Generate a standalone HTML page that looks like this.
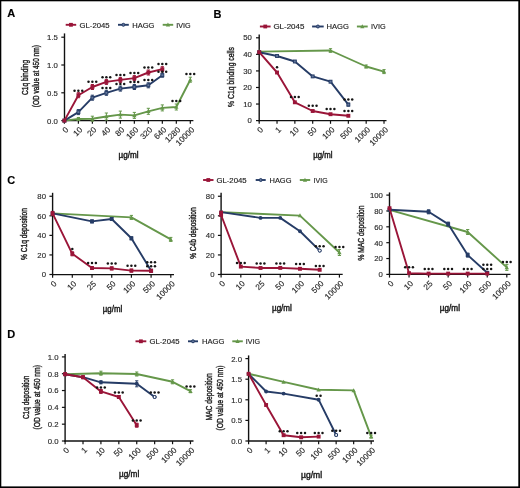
<!DOCTYPE html>
<html><head><meta charset="utf-8"><title>Figure</title>
<style>html,body{margin:0;padding:0;background:#fff;width:520px;height:488px;overflow:hidden}
svg{display:block;font-family:"Liberation Sans",sans-serif;filter:blur(0.35px)}</style></head>
<body>
<svg width="520" height="488" viewBox="0 0 520 488" font-family="Liberation Sans, sans-serif">
<rect x="0" y="0" width="520" height="488" fill="#fff"/>
<text x="7.3" y="17.2" font-size="11" text-anchor="start" fill="#000" font-weight="bold" stroke="#000" stroke-width="0.15">A</text>
<line x1="65.7" y1="24.8" x2="76.2" y2="24.8" stroke="#9a1538" stroke-width="1.9"/>
<rect x="69.05" y="22.9" width="3.8" height="3.8" fill="#9a1538"/>
<text x="79.6" y="27.6" font-size="7.6" text-anchor="start" fill="#222" textLength="30" lengthAdjust="spacingAndGlyphs" stroke="#222" stroke-width="0.15">GL-2045</text>
<line x1="118" y1="24.8" x2="128.8" y2="24.8" stroke="#263c66" stroke-width="1.9"/>
<circle cx="123.4" cy="24.8" r="1.5" fill="#62769c" stroke="#263c66" stroke-width="1"/>
<text x="132.2" y="27.6" font-size="7.6" text-anchor="start" fill="#222" textLength="22.2" lengthAdjust="spacingAndGlyphs" stroke="#222" stroke-width="0.15">HAGG</text>
<line x1="162.7" y1="24.8" x2="173.2" y2="24.8" stroke="#65974a" stroke-width="1.9"/>
<polygon points="167.95,22.6 170.05,26.5 165.85,26.5" fill="#65974a"/>
<text x="176.2" y="27.6" font-size="7.6" text-anchor="start" fill="#222" textLength="14.4" lengthAdjust="spacingAndGlyphs" stroke="#222" stroke-width="0.15">IVIG</text>
<line x1="64.5" y1="33.4" x2="64.5" y2="121.3" stroke="#111" stroke-width="1.4"/>
<line x1="61.3" y1="120.6" x2="64.5" y2="120.6" stroke="#111" stroke-width="1.2"/>
<text x="57.9" y="123.52" font-size="8.1" text-anchor="end" fill="#2a2a2a" textLength="10.81" lengthAdjust="spacingAndGlyphs" stroke="#2a2a2a" stroke-width="0.15">0.0</text>
<line x1="61.3" y1="92.8" x2="64.5" y2="92.8" stroke="#111" stroke-width="1.2"/>
<text x="57.9" y="95.72" font-size="8.1" text-anchor="end" fill="#2a2a2a" textLength="10.81" lengthAdjust="spacingAndGlyphs" stroke="#2a2a2a" stroke-width="0.15">0.5</text>
<line x1="61.3" y1="65" x2="64.5" y2="65" stroke="#111" stroke-width="1.2"/>
<text x="57.9" y="67.92" font-size="8.1" text-anchor="end" fill="#2a2a2a" textLength="10.81" lengthAdjust="spacingAndGlyphs" stroke="#2a2a2a" stroke-width="0.15">1.0</text>
<line x1="61.3" y1="37.2" x2="64.5" y2="37.2" stroke="#111" stroke-width="1.2"/>
<text x="57.9" y="40.12" font-size="8.1" text-anchor="end" fill="#2a2a2a" textLength="10.81" lengthAdjust="spacingAndGlyphs" stroke="#2a2a2a" stroke-width="0.15">1.5</text>
<line x1="63.8" y1="120.6" x2="193.4" y2="120.6" stroke="#111" stroke-width="1.4"/>
<line x1="64.4" y1="120.6" x2="64.4" y2="123.8" stroke="#111" stroke-width="1.2"/>
<text x="69" y="130.3" font-size="8.1" text-anchor="end" fill="#2a2a2a" textLength="4.5" lengthAdjust="spacingAndGlyphs" stroke="#2a2a2a" stroke-width="0.15" transform="rotate(-45 69 130.3)">0</text>
<line x1="78.39" y1="120.6" x2="78.39" y2="123.8" stroke="#111" stroke-width="1.2"/>
<text x="82.99" y="130.3" font-size="8.1" text-anchor="end" fill="#2a2a2a" textLength="9.01" lengthAdjust="spacingAndGlyphs" stroke="#2a2a2a" stroke-width="0.15" transform="rotate(-45 82.99 130.3)">10</text>
<line x1="92.38" y1="120.6" x2="92.38" y2="123.8" stroke="#111" stroke-width="1.2"/>
<text x="96.98" y="130.3" font-size="8.1" text-anchor="end" fill="#2a2a2a" textLength="9.01" lengthAdjust="spacingAndGlyphs" stroke="#2a2a2a" stroke-width="0.15" transform="rotate(-45 96.98 130.3)">20</text>
<line x1="106.37" y1="120.6" x2="106.37" y2="123.8" stroke="#111" stroke-width="1.2"/>
<text x="110.97" y="130.3" font-size="8.1" text-anchor="end" fill="#2a2a2a" textLength="9.01" lengthAdjust="spacingAndGlyphs" stroke="#2a2a2a" stroke-width="0.15" transform="rotate(-45 110.97 130.3)">40</text>
<line x1="120.36" y1="120.6" x2="120.36" y2="123.8" stroke="#111" stroke-width="1.2"/>
<text x="124.96" y="130.3" font-size="8.1" text-anchor="end" fill="#2a2a2a" textLength="9.01" lengthAdjust="spacingAndGlyphs" stroke="#2a2a2a" stroke-width="0.15" transform="rotate(-45 124.96 130.3)">80</text>
<line x1="134.35" y1="120.6" x2="134.35" y2="123.8" stroke="#111" stroke-width="1.2"/>
<text x="138.95" y="130.3" font-size="8.1" text-anchor="end" fill="#2a2a2a" textLength="13.51" lengthAdjust="spacingAndGlyphs" stroke="#2a2a2a" stroke-width="0.15" transform="rotate(-45 138.95 130.3)">160</text>
<line x1="148.34" y1="120.6" x2="148.34" y2="123.8" stroke="#111" stroke-width="1.2"/>
<text x="152.94" y="130.3" font-size="8.1" text-anchor="end" fill="#2a2a2a" textLength="13.51" lengthAdjust="spacingAndGlyphs" stroke="#2a2a2a" stroke-width="0.15" transform="rotate(-45 152.94 130.3)">320</text>
<line x1="162.33" y1="120.6" x2="162.33" y2="123.8" stroke="#111" stroke-width="1.2"/>
<text x="166.93" y="130.3" font-size="8.1" text-anchor="end" fill="#2a2a2a" textLength="13.51" lengthAdjust="spacingAndGlyphs" stroke="#2a2a2a" stroke-width="0.15" transform="rotate(-45 166.93 130.3)">640</text>
<line x1="176.32" y1="120.6" x2="176.32" y2="123.8" stroke="#111" stroke-width="1.2"/>
<text x="180.92" y="130.3" font-size="8.1" text-anchor="end" fill="#2a2a2a" textLength="18.02" lengthAdjust="spacingAndGlyphs" stroke="#2a2a2a" stroke-width="0.15" transform="rotate(-45 180.92 130.3)">1280</text>
<line x1="190.31" y1="120.6" x2="190.31" y2="123.8" stroke="#111" stroke-width="1.2"/>
<text x="194.91" y="130.3" font-size="8.1" text-anchor="end" fill="#2a2a2a" textLength="22.52" lengthAdjust="spacingAndGlyphs" stroke="#2a2a2a" stroke-width="0.15" transform="rotate(-45 194.91 130.3)">10000</text>
<text x="118.6" y="157.6" font-size="8.8" text-anchor="start" fill="#1a1a1a" textLength="20" lengthAdjust="spacingAndGlyphs" stroke="#1a1a1a" stroke-width="0.45">µg/ml</text>
<text x="27.8" y="77.4" font-size="8.9" text-anchor="middle" fill="#1e1e1e" textLength="35" lengthAdjust="spacingAndGlyphs" stroke="#1e1e1e" stroke-width="0.4" transform="rotate(-90 27.8 77.4)">C1q binding</text>
<text x="39.2" y="76.2" font-size="8.9" text-anchor="middle" fill="#1e1e1e" textLength="62" lengthAdjust="spacingAndGlyphs" stroke="#1e1e1e" stroke-width="0.4" transform="rotate(-90 39.2 76.2)">(OD value at 450 nm)</text>
<polyline points="64.4,120.6 78.39,119 92.38,118.7 106.37,116.5 120.36,114.6 134.35,115.4 148.34,111.3 162.33,107.9 176.32,107 190.31,79.7" fill="none" stroke="#65974a" stroke-width="1.9" stroke-linejoin="round"/>
<line x1="78.39" y1="117.5" x2="78.39" y2="120.5" stroke="#65974a" stroke-width="1.0"/>
<line x1="76.79" y1="117.5" x2="79.99" y2="117.5" stroke="#65974a" stroke-width="1.0"/>
<line x1="76.79" y1="120.5" x2="79.99" y2="120.5" stroke="#65974a" stroke-width="1.0"/>
<line x1="92.38" y1="116.2" x2="92.38" y2="121.2" stroke="#65974a" stroke-width="1.0"/>
<line x1="90.78" y1="116.2" x2="93.98" y2="116.2" stroke="#65974a" stroke-width="1.0"/>
<line x1="90.78" y1="121.2" x2="93.98" y2="121.2" stroke="#65974a" stroke-width="1.0"/>
<line x1="106.37" y1="113" x2="106.37" y2="120" stroke="#65974a" stroke-width="1.0"/>
<line x1="104.77" y1="113" x2="107.97" y2="113" stroke="#65974a" stroke-width="1.0"/>
<line x1="104.77" y1="120" x2="107.97" y2="120" stroke="#65974a" stroke-width="1.0"/>
<line x1="120.36" y1="111.1" x2="120.36" y2="118.1" stroke="#65974a" stroke-width="1.0"/>
<line x1="118.76" y1="111.1" x2="121.96" y2="111.1" stroke="#65974a" stroke-width="1.0"/>
<line x1="118.76" y1="118.1" x2="121.96" y2="118.1" stroke="#65974a" stroke-width="1.0"/>
<line x1="134.35" y1="112.4" x2="134.35" y2="118.4" stroke="#65974a" stroke-width="1.0"/>
<line x1="132.75" y1="112.4" x2="135.95" y2="112.4" stroke="#65974a" stroke-width="1.0"/>
<line x1="132.75" y1="118.4" x2="135.95" y2="118.4" stroke="#65974a" stroke-width="1.0"/>
<line x1="148.34" y1="108.3" x2="148.34" y2="114.3" stroke="#65974a" stroke-width="1.0"/>
<line x1="146.74" y1="108.3" x2="149.94" y2="108.3" stroke="#65974a" stroke-width="1.0"/>
<line x1="146.74" y1="114.3" x2="149.94" y2="114.3" stroke="#65974a" stroke-width="1.0"/>
<line x1="162.33" y1="104.9" x2="162.33" y2="110.9" stroke="#65974a" stroke-width="1.0"/>
<line x1="160.73" y1="104.9" x2="163.93" y2="104.9" stroke="#65974a" stroke-width="1.0"/>
<line x1="160.73" y1="110.9" x2="163.93" y2="110.9" stroke="#65974a" stroke-width="1.0"/>
<line x1="176.32" y1="104" x2="176.32" y2="110" stroke="#65974a" stroke-width="1.0"/>
<line x1="174.72" y1="104" x2="177.92" y2="104" stroke="#65974a" stroke-width="1.0"/>
<line x1="174.72" y1="110" x2="177.92" y2="110" stroke="#65974a" stroke-width="1.0"/>
<line x1="190.31" y1="77.2" x2="190.31" y2="82.2" stroke="#65974a" stroke-width="1.0"/>
<line x1="188.71" y1="77.2" x2="191.91" y2="77.2" stroke="#65974a" stroke-width="1.0"/>
<line x1="188.71" y1="82.2" x2="191.91" y2="82.2" stroke="#65974a" stroke-width="1.0"/>
<polygon points="64.4,118.35 66.55,122.35 62.25,122.35" fill="#65974a"/>
<polygon points="78.39,116.75 80.54,120.75 76.24,120.75" fill="#65974a"/>
<polygon points="92.38,116.45 94.53,120.45 90.23,120.45" fill="#65974a"/>
<polygon points="106.37,114.25 108.52,118.25 104.22,118.25" fill="#65974a"/>
<polygon points="120.36,112.35 122.51,116.35 118.21,116.35" fill="#65974a"/>
<polygon points="134.35,113.15 136.5,117.15 132.2,117.15" fill="#65974a"/>
<polygon points="148.34,109.05 150.49,113.05 146.19,113.05" fill="#65974a"/>
<polygon points="162.33,105.65 164.48,109.65 160.18,109.65" fill="#65974a"/>
<polygon points="176.32,104.75 178.47,108.75 174.17,108.75" fill="#65974a"/>
<polygon points="190.31,77.45 192.46,81.45 188.16,81.45" fill="#65974a"/>
<polyline points="64.4,120.6 78.39,112.1 92.38,97.7 106.37,92.8 120.36,88.6 134.35,87 148.34,85.3 162.33,75.2" fill="none" stroke="#263c66" stroke-width="1.9" stroke-linejoin="round"/>
<line x1="78.39" y1="109.6" x2="78.39" y2="114.6" stroke="#263c66" stroke-width="1.0"/>
<line x1="76.79" y1="109.6" x2="79.99" y2="109.6" stroke="#263c66" stroke-width="1.0"/>
<line x1="76.79" y1="114.6" x2="79.99" y2="114.6" stroke="#263c66" stroke-width="1.0"/>
<line x1="92.38" y1="95.2" x2="92.38" y2="100.2" stroke="#263c66" stroke-width="1.0"/>
<line x1="90.78" y1="95.2" x2="93.98" y2="95.2" stroke="#263c66" stroke-width="1.0"/>
<line x1="90.78" y1="100.2" x2="93.98" y2="100.2" stroke="#263c66" stroke-width="1.0"/>
<line x1="106.37" y1="90.3" x2="106.37" y2="95.3" stroke="#263c66" stroke-width="1.0"/>
<line x1="104.77" y1="90.3" x2="107.97" y2="90.3" stroke="#263c66" stroke-width="1.0"/>
<line x1="104.77" y1="95.3" x2="107.97" y2="95.3" stroke="#263c66" stroke-width="1.0"/>
<line x1="120.36" y1="86.1" x2="120.36" y2="91.1" stroke="#263c66" stroke-width="1.0"/>
<line x1="118.76" y1="86.1" x2="121.96" y2="86.1" stroke="#263c66" stroke-width="1.0"/>
<line x1="118.76" y1="91.1" x2="121.96" y2="91.1" stroke="#263c66" stroke-width="1.0"/>
<line x1="134.35" y1="84.5" x2="134.35" y2="89.5" stroke="#263c66" stroke-width="1.0"/>
<line x1="132.75" y1="84.5" x2="135.95" y2="84.5" stroke="#263c66" stroke-width="1.0"/>
<line x1="132.75" y1="89.5" x2="135.95" y2="89.5" stroke="#263c66" stroke-width="1.0"/>
<line x1="148.34" y1="82.8" x2="148.34" y2="87.8" stroke="#263c66" stroke-width="1.0"/>
<line x1="146.74" y1="82.8" x2="149.94" y2="82.8" stroke="#263c66" stroke-width="1.0"/>
<line x1="146.74" y1="87.8" x2="149.94" y2="87.8" stroke="#263c66" stroke-width="1.0"/>
<line x1="162.33" y1="73.2" x2="162.33" y2="77.2" stroke="#263c66" stroke-width="1.0"/>
<line x1="160.73" y1="73.2" x2="163.93" y2="73.2" stroke="#263c66" stroke-width="1.0"/>
<line x1="160.73" y1="77.2" x2="163.93" y2="77.2" stroke="#263c66" stroke-width="1.0"/>
<rect x="62.95" y="119.15" width="2.9" height="2.9" fill="#62769c" stroke="#263c66" stroke-width="1"/>
<rect x="76.94" y="110.65" width="2.9" height="2.9" fill="#62769c" stroke="#263c66" stroke-width="1"/>
<rect x="90.93" y="96.25" width="2.9" height="2.9" fill="#62769c" stroke="#263c66" stroke-width="1"/>
<rect x="104.92" y="91.35" width="2.9" height="2.9" fill="#62769c" stroke="#263c66" stroke-width="1"/>
<rect x="118.91" y="87.15" width="2.9" height="2.9" fill="#62769c" stroke="#263c66" stroke-width="1"/>
<rect x="132.9" y="85.55" width="2.9" height="2.9" fill="#62769c" stroke="#263c66" stroke-width="1"/>
<rect x="146.89" y="83.85" width="2.9" height="2.9" fill="#62769c" stroke="#263c66" stroke-width="1"/>
<rect x="160.88" y="73.75" width="2.9" height="2.9" fill="#62769c" stroke="#263c66" stroke-width="1"/>
<polyline points="64.4,120.6 78.39,95.2 92.38,87 106.37,81.9 120.36,79.9 134.35,78.1 148.34,72.5 162.33,69.2" fill="none" stroke="#9a1538" stroke-width="1.9" stroke-linejoin="round"/>
<line x1="78.39" y1="92.7" x2="78.39" y2="97.7" stroke="#9a1538" stroke-width="1.0"/>
<line x1="76.79" y1="92.7" x2="79.99" y2="92.7" stroke="#9a1538" stroke-width="1.0"/>
<line x1="76.79" y1="97.7" x2="79.99" y2="97.7" stroke="#9a1538" stroke-width="1.0"/>
<line x1="92.38" y1="84.5" x2="92.38" y2="89.5" stroke="#9a1538" stroke-width="1.0"/>
<line x1="90.78" y1="84.5" x2="93.98" y2="84.5" stroke="#9a1538" stroke-width="1.0"/>
<line x1="90.78" y1="89.5" x2="93.98" y2="89.5" stroke="#9a1538" stroke-width="1.0"/>
<line x1="106.37" y1="79.4" x2="106.37" y2="84.4" stroke="#9a1538" stroke-width="1.0"/>
<line x1="104.77" y1="79.4" x2="107.97" y2="79.4" stroke="#9a1538" stroke-width="1.0"/>
<line x1="104.77" y1="84.4" x2="107.97" y2="84.4" stroke="#9a1538" stroke-width="1.0"/>
<line x1="120.36" y1="77.4" x2="120.36" y2="82.4" stroke="#9a1538" stroke-width="1.0"/>
<line x1="118.76" y1="77.4" x2="121.96" y2="77.4" stroke="#9a1538" stroke-width="1.0"/>
<line x1="118.76" y1="82.4" x2="121.96" y2="82.4" stroke="#9a1538" stroke-width="1.0"/>
<line x1="134.35" y1="75.6" x2="134.35" y2="80.6" stroke="#9a1538" stroke-width="1.0"/>
<line x1="132.75" y1="75.6" x2="135.95" y2="75.6" stroke="#9a1538" stroke-width="1.0"/>
<line x1="132.75" y1="80.6" x2="135.95" y2="80.6" stroke="#9a1538" stroke-width="1.0"/>
<line x1="148.34" y1="70" x2="148.34" y2="75" stroke="#9a1538" stroke-width="1.0"/>
<line x1="146.74" y1="70" x2="149.94" y2="70" stroke="#9a1538" stroke-width="1.0"/>
<line x1="146.74" y1="75" x2="149.94" y2="75" stroke="#9a1538" stroke-width="1.0"/>
<line x1="162.33" y1="66.7" x2="162.33" y2="71.7" stroke="#9a1538" stroke-width="1.0"/>
<line x1="160.73" y1="66.7" x2="163.93" y2="66.7" stroke="#9a1538" stroke-width="1.0"/>
<line x1="160.73" y1="71.7" x2="163.93" y2="71.7" stroke="#9a1538" stroke-width="1.0"/>
<rect x="62.45" y="118.65" width="3.9" height="3.9" fill="#9a1538"/>
<rect x="76.44" y="93.25" width="3.9" height="3.9" fill="#9a1538"/>
<rect x="90.43" y="85.05" width="3.9" height="3.9" fill="#9a1538"/>
<rect x="104.42" y="79.95" width="3.9" height="3.9" fill="#9a1538"/>
<rect x="118.41" y="77.95" width="3.9" height="3.9" fill="#9a1538"/>
<rect x="132.4" y="76.15" width="3.9" height="3.9" fill="#9a1538"/>
<rect x="146.39" y="70.55" width="3.9" height="3.9" fill="#9a1538"/>
<rect x="160.38" y="67.25" width="3.9" height="3.9" fill="#9a1538"/>
<circle cx="74.54" cy="90.8" r="1.25" fill="#151515"/>
<circle cx="78.39" cy="90.8" r="1.25" fill="#151515"/>
<circle cx="82.24" cy="90.8" r="1.25" fill="#151515"/>
<circle cx="88.53" cy="81.8" r="1.25" fill="#151515"/>
<circle cx="92.38" cy="81.8" r="1.25" fill="#151515"/>
<circle cx="96.23" cy="81.8" r="1.25" fill="#151515"/>
<circle cx="102.52" cy="77.2" r="1.25" fill="#151515"/>
<circle cx="106.37" cy="77.2" r="1.25" fill="#151515"/>
<circle cx="110.22" cy="77.2" r="1.25" fill="#151515"/>
<circle cx="116.51" cy="74.9" r="1.25" fill="#151515"/>
<circle cx="120.36" cy="74.9" r="1.25" fill="#151515"/>
<circle cx="124.21" cy="74.9" r="1.25" fill="#151515"/>
<circle cx="130.5" cy="72.9" r="1.25" fill="#151515"/>
<circle cx="134.35" cy="72.9" r="1.25" fill="#151515"/>
<circle cx="138.2" cy="72.9" r="1.25" fill="#151515"/>
<circle cx="144.49" cy="67.4" r="1.25" fill="#151515"/>
<circle cx="148.34" cy="67.4" r="1.25" fill="#151515"/>
<circle cx="152.19" cy="67.4" r="1.25" fill="#151515"/>
<circle cx="158.48" cy="64" r="1.25" fill="#151515"/>
<circle cx="162.33" cy="64" r="1.25" fill="#151515"/>
<circle cx="166.18" cy="64" r="1.25" fill="#151515"/>
<circle cx="102.52" cy="88" r="1.25" fill="#151515"/>
<circle cx="106.37" cy="88" r="1.25" fill="#151515"/>
<circle cx="110.22" cy="88" r="1.25" fill="#151515"/>
<circle cx="116.51" cy="83.9" r="1.25" fill="#151515"/>
<circle cx="120.36" cy="83.9" r="1.25" fill="#151515"/>
<circle cx="124.21" cy="83.9" r="1.25" fill="#151515"/>
<circle cx="130.5" cy="81.9" r="1.25" fill="#151515"/>
<circle cx="134.35" cy="81.9" r="1.25" fill="#151515"/>
<circle cx="138.2" cy="81.9" r="1.25" fill="#151515"/>
<circle cx="144.49" cy="79.9" r="1.25" fill="#151515"/>
<circle cx="148.34" cy="79.9" r="1.25" fill="#151515"/>
<circle cx="152.19" cy="79.9" r="1.25" fill="#151515"/>
<circle cx="158.48" cy="71.8" r="1.25" fill="#151515"/>
<circle cx="162.33" cy="71.8" r="1.25" fill="#151515"/>
<circle cx="166.18" cy="71.8" r="1.25" fill="#151515"/>
<circle cx="172.47" cy="101" r="1.25" fill="#151515"/>
<circle cx="176.32" cy="101" r="1.25" fill="#151515"/>
<circle cx="180.17" cy="101" r="1.25" fill="#151515"/>
<circle cx="186.46" cy="73.9" r="1.25" fill="#151515"/>
<circle cx="190.31" cy="73.9" r="1.25" fill="#151515"/>
<circle cx="194.16" cy="73.9" r="1.25" fill="#151515"/>
<text x="213.6" y="17.7" font-size="11" text-anchor="start" fill="#000" font-weight="bold" stroke="#000" stroke-width="0.15">B</text>
<line x1="259.9" y1="26.5" x2="270.6" y2="26.5" stroke="#9a1538" stroke-width="1.9"/>
<rect x="263.35" y="24.6" width="3.8" height="3.8" fill="#9a1538"/>
<text x="273.4" y="29.3" font-size="7.6" text-anchor="start" fill="#222" textLength="31" lengthAdjust="spacingAndGlyphs" stroke="#222" stroke-width="0.15">GL-2045</text>
<line x1="312.1" y1="26.5" x2="323.7" y2="26.5" stroke="#263c66" stroke-width="1.9"/>
<circle cx="317.9" cy="26.5" r="1.5" fill="#62769c" stroke="#263c66" stroke-width="1"/>
<text x="326.5" y="29.3" font-size="7.6" text-anchor="start" fill="#222" textLength="22.3" lengthAdjust="spacingAndGlyphs" stroke="#222" stroke-width="0.15">HAGG</text>
<line x1="356.9" y1="26.5" x2="367.7" y2="26.5" stroke="#65974a" stroke-width="1.9"/>
<polygon points="362.3,24.3 364.4,28.2 360.2,28.2" fill="#65974a"/>
<text x="371" y="29.3" font-size="7.6" text-anchor="start" fill="#222" textLength="14.6" lengthAdjust="spacingAndGlyphs" stroke="#222" stroke-width="0.15">IVIG</text>
<line x1="259.2" y1="34.4" x2="259.2" y2="121.3" stroke="#111" stroke-width="1.4"/>
<line x1="256" y1="120.6" x2="259.2" y2="120.6" stroke="#111" stroke-width="1.2"/>
<text x="251.9" y="123.19" font-size="7.2" text-anchor="end" fill="#2a2a2a" textLength="4.32" lengthAdjust="spacingAndGlyphs" stroke="#2a2a2a" stroke-width="0.15">0</text>
<line x1="256" y1="104.04" x2="259.2" y2="104.04" stroke="#111" stroke-width="1.2"/>
<text x="251.9" y="106.63" font-size="7.2" text-anchor="end" fill="#2a2a2a" textLength="8.65" lengthAdjust="spacingAndGlyphs" stroke="#2a2a2a" stroke-width="0.15">10</text>
<line x1="256" y1="87.48" x2="259.2" y2="87.48" stroke="#111" stroke-width="1.2"/>
<text x="251.9" y="90.07" font-size="7.2" text-anchor="end" fill="#2a2a2a" textLength="8.65" lengthAdjust="spacingAndGlyphs" stroke="#2a2a2a" stroke-width="0.15">20</text>
<line x1="256" y1="70.92" x2="259.2" y2="70.92" stroke="#111" stroke-width="1.2"/>
<text x="251.9" y="73.51" font-size="7.2" text-anchor="end" fill="#2a2a2a" textLength="8.65" lengthAdjust="spacingAndGlyphs" stroke="#2a2a2a" stroke-width="0.15">30</text>
<line x1="256" y1="54.36" x2="259.2" y2="54.36" stroke="#111" stroke-width="1.2"/>
<text x="251.9" y="56.95" font-size="7.2" text-anchor="end" fill="#2a2a2a" textLength="8.65" lengthAdjust="spacingAndGlyphs" stroke="#2a2a2a" stroke-width="0.15">40</text>
<line x1="256" y1="37.8" x2="259.2" y2="37.8" stroke="#111" stroke-width="1.2"/>
<text x="251.9" y="40.39" font-size="7.2" text-anchor="end" fill="#2a2a2a" textLength="8.65" lengthAdjust="spacingAndGlyphs" stroke="#2a2a2a" stroke-width="0.15">50</text>
<line x1="258.5" y1="120.6" x2="386.5" y2="120.6" stroke="#111" stroke-width="1.4"/>
<line x1="259.2" y1="120.6" x2="259.2" y2="123.8" stroke="#111" stroke-width="1.2"/>
<text x="263.8" y="130.3" font-size="8.1" text-anchor="end" fill="#2a2a2a" textLength="4.5" lengthAdjust="spacingAndGlyphs" stroke="#2a2a2a" stroke-width="0.15" transform="rotate(-45 263.8 130.3)">0</text>
<line x1="277.03" y1="120.6" x2="277.03" y2="123.8" stroke="#111" stroke-width="1.2"/>
<text x="281.63" y="130.3" font-size="8.1" text-anchor="end" fill="#2a2a2a" textLength="4.5" lengthAdjust="spacingAndGlyphs" stroke="#2a2a2a" stroke-width="0.15" transform="rotate(-45 281.63 130.3)">1</text>
<line x1="294.86" y1="120.6" x2="294.86" y2="123.8" stroke="#111" stroke-width="1.2"/>
<text x="299.46" y="130.3" font-size="8.1" text-anchor="end" fill="#2a2a2a" textLength="9.01" lengthAdjust="spacingAndGlyphs" stroke="#2a2a2a" stroke-width="0.15" transform="rotate(-45 299.46 130.3)">10</text>
<line x1="312.69" y1="120.6" x2="312.69" y2="123.8" stroke="#111" stroke-width="1.2"/>
<text x="317.29" y="130.3" font-size="8.1" text-anchor="end" fill="#2a2a2a" textLength="9.01" lengthAdjust="spacingAndGlyphs" stroke="#2a2a2a" stroke-width="0.15" transform="rotate(-45 317.29 130.3)">50</text>
<line x1="330.52" y1="120.6" x2="330.52" y2="123.8" stroke="#111" stroke-width="1.2"/>
<text x="335.12" y="130.3" font-size="8.1" text-anchor="end" fill="#2a2a2a" textLength="13.51" lengthAdjust="spacingAndGlyphs" stroke="#2a2a2a" stroke-width="0.15" transform="rotate(-45 335.12 130.3)">100</text>
<line x1="348.35" y1="120.6" x2="348.35" y2="123.8" stroke="#111" stroke-width="1.2"/>
<text x="352.95" y="130.3" font-size="8.1" text-anchor="end" fill="#2a2a2a" textLength="13.51" lengthAdjust="spacingAndGlyphs" stroke="#2a2a2a" stroke-width="0.15" transform="rotate(-45 352.95 130.3)">500</text>
<line x1="366.18" y1="120.6" x2="366.18" y2="123.8" stroke="#111" stroke-width="1.2"/>
<text x="370.78" y="130.3" font-size="8.1" text-anchor="end" fill="#2a2a2a" textLength="18.02" lengthAdjust="spacingAndGlyphs" stroke="#2a2a2a" stroke-width="0.15" transform="rotate(-45 370.78 130.3)">1000</text>
<line x1="384.01" y1="120.6" x2="384.01" y2="123.8" stroke="#111" stroke-width="1.2"/>
<text x="388.61" y="130.3" font-size="8.1" text-anchor="end" fill="#2a2a2a" textLength="22.52" lengthAdjust="spacingAndGlyphs" stroke="#2a2a2a" stroke-width="0.15" transform="rotate(-45 388.61 130.3)">10000</text>
<text x="313.2" y="157.8" font-size="8.8" text-anchor="start" fill="#1a1a1a" textLength="19.2" lengthAdjust="spacingAndGlyphs" stroke="#1a1a1a" stroke-width="0.45">µg/ml</text>
<text x="233.5" y="77" font-size="8.9" text-anchor="middle" fill="#1e1e1e" textLength="60" lengthAdjust="spacingAndGlyphs" stroke="#1e1e1e" stroke-width="0.4" transform="rotate(-90 233.5 77)">% C1q binding cells</text>
<polyline points="259.2,51.6 330.52,50.5 366.18,66.5 384.01,71.6" fill="none" stroke="#65974a" stroke-width="1.9" stroke-linejoin="round"/>
<line x1="330.52" y1="48.7" x2="330.52" y2="52.3" stroke="#65974a" stroke-width="1.0"/>
<line x1="328.92" y1="48.7" x2="332.12" y2="48.7" stroke="#65974a" stroke-width="1.0"/>
<line x1="328.92" y1="52.3" x2="332.12" y2="52.3" stroke="#65974a" stroke-width="1.0"/>
<line x1="366.18" y1="65" x2="366.18" y2="68" stroke="#65974a" stroke-width="1.0"/>
<line x1="364.58" y1="65" x2="367.78" y2="65" stroke="#65974a" stroke-width="1.0"/>
<line x1="364.58" y1="68" x2="367.78" y2="68" stroke="#65974a" stroke-width="1.0"/>
<line x1="384.01" y1="69.6" x2="384.01" y2="73.6" stroke="#65974a" stroke-width="1.0"/>
<line x1="382.41" y1="69.6" x2="385.61" y2="69.6" stroke="#65974a" stroke-width="1.0"/>
<line x1="382.41" y1="73.6" x2="385.61" y2="73.6" stroke="#65974a" stroke-width="1.0"/>
<polygon points="259.2,49.35 261.35,53.35 257.05,53.35" fill="#65974a"/>
<polygon points="330.52,48.25 332.67,52.25 328.37,52.25" fill="#65974a"/>
<polygon points="366.18,64.25 368.33,68.25 364.03,68.25" fill="#65974a"/>
<polygon points="384.01,69.35 386.16,73.35 381.86,73.35" fill="#65974a"/>
<polyline points="259.2,52.2 277.03,56 294.86,61.5 312.69,76.4 330.52,81.7 348.35,104.6" fill="none" stroke="#263c66" stroke-width="1.9" stroke-linejoin="round"/>
<line x1="348.35" y1="103.1" x2="348.35" y2="106.1" stroke="#263c66" stroke-width="1.0"/>
<line x1="346.75" y1="103.1" x2="349.95" y2="103.1" stroke="#263c66" stroke-width="1.0"/>
<line x1="346.75" y1="106.1" x2="349.95" y2="106.1" stroke="#263c66" stroke-width="1.0"/>
<rect x="257.75" y="50.75" width="2.9" height="2.9" fill="#62769c" stroke="#263c66" stroke-width="1"/>
<rect x="275.58" y="54.55" width="2.9" height="2.9" fill="#62769c" stroke="#263c66" stroke-width="1"/>
<rect x="293.41" y="60.05" width="2.9" height="2.9" fill="#62769c" stroke="#263c66" stroke-width="1"/>
<rect x="311.24" y="74.95" width="2.9" height="2.9" fill="#62769c" stroke="#263c66" stroke-width="1"/>
<rect x="329.07" y="80.25" width="2.9" height="2.9" fill="#62769c" stroke="#263c66" stroke-width="1"/>
<rect x="346.9" y="103.15" width="2.9" height="2.9" fill="#62769c" stroke="#263c66" stroke-width="1"/>
<polyline points="259.2,52.2 277.03,72.5 294.86,102.3 312.69,111 330.52,114.2 348.35,115.8" fill="none" stroke="#9a1538" stroke-width="1.9" stroke-linejoin="round"/>
<rect x="257.25" y="50.25" width="3.9" height="3.9" fill="#9a1538"/>
<rect x="275.08" y="70.55" width="3.9" height="3.9" fill="#9a1538"/>
<rect x="292.91" y="100.35" width="3.9" height="3.9" fill="#9a1538"/>
<rect x="310.74" y="109.05" width="3.9" height="3.9" fill="#9a1538"/>
<rect x="328.57" y="112.25" width="3.9" height="3.9" fill="#9a1538"/>
<rect x="346.4" y="113.85" width="3.9" height="3.9" fill="#9a1538"/>
<circle cx="277.03" cy="67.3" r="1.25" fill="#151515"/>
<circle cx="291.01" cy="96.9" r="1.25" fill="#151515"/>
<circle cx="294.86" cy="96.9" r="1.25" fill="#151515"/>
<circle cx="298.71" cy="96.9" r="1.25" fill="#151515"/>
<circle cx="308.84" cy="105.8" r="1.25" fill="#151515"/>
<circle cx="312.69" cy="105.8" r="1.25" fill="#151515"/>
<circle cx="316.54" cy="105.8" r="1.25" fill="#151515"/>
<circle cx="326.67" cy="109" r="1.25" fill="#151515"/>
<circle cx="330.52" cy="109" r="1.25" fill="#151515"/>
<circle cx="334.37" cy="109" r="1.25" fill="#151515"/>
<circle cx="344.5" cy="111" r="1.25" fill="#151515"/>
<circle cx="348.35" cy="111" r="1.25" fill="#151515"/>
<circle cx="352.2" cy="111" r="1.25" fill="#151515"/>
<circle cx="344.5" cy="99.4" r="1.25" fill="#151515"/>
<circle cx="348.35" cy="99.4" r="1.25" fill="#151515"/>
<circle cx="352.2" cy="99.4" r="1.25" fill="#151515"/>
<text x="7.3" y="184" font-size="11" text-anchor="start" fill="#000" font-weight="bold" stroke="#000" stroke-width="0.15">C</text>
<line x1="203.1" y1="180" x2="213.5" y2="180" stroke="#9a1538" stroke-width="1.9"/>
<rect x="206.4" y="178.1" width="3.8" height="3.8" fill="#9a1538"/>
<text x="216.4" y="182.8" font-size="7.6" text-anchor="start" fill="#222" textLength="30.3" lengthAdjust="spacingAndGlyphs" stroke="#222" stroke-width="0.15">GL-2045</text>
<line x1="255.7" y1="180" x2="265.7" y2="180" stroke="#263c66" stroke-width="1.9"/>
<circle cx="260.7" cy="180" r="1.5" fill="#62769c" stroke="#263c66" stroke-width="1"/>
<text x="269.5" y="182.8" font-size="7.6" text-anchor="start" fill="#222" textLength="22" lengthAdjust="spacingAndGlyphs" stroke="#222" stroke-width="0.15">HAGG</text>
<line x1="299.8" y1="180" x2="310.2" y2="180" stroke="#65974a" stroke-width="1.9"/>
<polygon points="305,177.8 307.1,181.7 302.9,181.7" fill="#65974a"/>
<text x="313.6" y="182.8" font-size="7.6" text-anchor="start" fill="#222" textLength="14" lengthAdjust="spacingAndGlyphs" stroke="#222" stroke-width="0.15">IVIG</text>
<line x1="52.6" y1="192.8" x2="52.6" y2="275.3" stroke="#111" stroke-width="1.4"/>
<line x1="49.4" y1="274.5" x2="52.6" y2="274.5" stroke="#111" stroke-width="1.2"/>
<text x="46" y="277.42" font-size="8.1" text-anchor="end" fill="#2a2a2a" textLength="4.32" lengthAdjust="spacingAndGlyphs" stroke="#2a2a2a" stroke-width="0.15">0</text>
<line x1="49.4" y1="254.94" x2="52.6" y2="254.94" stroke="#111" stroke-width="1.2"/>
<text x="46" y="257.86" font-size="8.1" text-anchor="end" fill="#2a2a2a" textLength="8.65" lengthAdjust="spacingAndGlyphs" stroke="#2a2a2a" stroke-width="0.15">20</text>
<line x1="49.4" y1="235.38" x2="52.6" y2="235.38" stroke="#111" stroke-width="1.2"/>
<text x="46" y="238.3" font-size="8.1" text-anchor="end" fill="#2a2a2a" textLength="8.65" lengthAdjust="spacingAndGlyphs" stroke="#2a2a2a" stroke-width="0.15">40</text>
<line x1="49.4" y1="215.82" x2="52.6" y2="215.82" stroke="#111" stroke-width="1.2"/>
<text x="46" y="218.74" font-size="8.1" text-anchor="end" fill="#2a2a2a" textLength="8.65" lengthAdjust="spacingAndGlyphs" stroke="#2a2a2a" stroke-width="0.15">60</text>
<line x1="49.4" y1="196.26" x2="52.6" y2="196.26" stroke="#111" stroke-width="1.2"/>
<text x="46" y="199.18" font-size="8.1" text-anchor="end" fill="#2a2a2a" textLength="8.65" lengthAdjust="spacingAndGlyphs" stroke="#2a2a2a" stroke-width="0.15">80</text>
<line x1="51.9" y1="274.6" x2="174" y2="274.6" stroke="#111" stroke-width="1.4"/>
<line x1="52.6" y1="274.6" x2="52.6" y2="277.8" stroke="#111" stroke-width="1.2"/>
<text x="57.2" y="284.3" font-size="8.1" text-anchor="end" fill="#2a2a2a" textLength="4.5" lengthAdjust="spacingAndGlyphs" stroke="#2a2a2a" stroke-width="0.15" transform="rotate(-45 57.2 284.3)">0</text>
<line x1="72.3" y1="274.6" x2="72.3" y2="277.8" stroke="#111" stroke-width="1.2"/>
<text x="76.9" y="284.3" font-size="8.1" text-anchor="end" fill="#2a2a2a" textLength="9.01" lengthAdjust="spacingAndGlyphs" stroke="#2a2a2a" stroke-width="0.15" transform="rotate(-45 76.9 284.3)">10</text>
<line x1="92" y1="274.6" x2="92" y2="277.8" stroke="#111" stroke-width="1.2"/>
<text x="96.6" y="284.3" font-size="8.1" text-anchor="end" fill="#2a2a2a" textLength="9.01" lengthAdjust="spacingAndGlyphs" stroke="#2a2a2a" stroke-width="0.15" transform="rotate(-45 96.6 284.3)">25</text>
<line x1="111.7" y1="274.6" x2="111.7" y2="277.8" stroke="#111" stroke-width="1.2"/>
<text x="116.3" y="284.3" font-size="8.1" text-anchor="end" fill="#2a2a2a" textLength="9.01" lengthAdjust="spacingAndGlyphs" stroke="#2a2a2a" stroke-width="0.15" transform="rotate(-45 116.3 284.3)">50</text>
<line x1="131.4" y1="274.6" x2="131.4" y2="277.8" stroke="#111" stroke-width="1.2"/>
<text x="136" y="284.3" font-size="8.1" text-anchor="end" fill="#2a2a2a" textLength="13.51" lengthAdjust="spacingAndGlyphs" stroke="#2a2a2a" stroke-width="0.15" transform="rotate(-45 136 284.3)">100</text>
<line x1="151.1" y1="274.6" x2="151.1" y2="277.8" stroke="#111" stroke-width="1.2"/>
<text x="155.7" y="284.3" font-size="8.1" text-anchor="end" fill="#2a2a2a" textLength="13.51" lengthAdjust="spacingAndGlyphs" stroke="#2a2a2a" stroke-width="0.15" transform="rotate(-45 155.7 284.3)">500</text>
<line x1="170.8" y1="274.6" x2="170.8" y2="277.8" stroke="#111" stroke-width="1.2"/>
<text x="175.4" y="284.3" font-size="8.1" text-anchor="end" fill="#2a2a2a" textLength="22.52" lengthAdjust="spacingAndGlyphs" stroke="#2a2a2a" stroke-width="0.15" transform="rotate(-45 175.4 284.3)">10000</text>
<text x="102.8" y="311.6" font-size="8.8" text-anchor="start" fill="#1a1a1a" textLength="19.4" lengthAdjust="spacingAndGlyphs" stroke="#1a1a1a" stroke-width="0.45">µg/ml</text>
<text x="27.4" y="234" font-size="8.9" text-anchor="middle" fill="#1e1e1e" textLength="51.8" lengthAdjust="spacingAndGlyphs" stroke="#1e1e1e" stroke-width="0.4" transform="rotate(-90 27.4 234)">% C1q deposition</text>
<polyline points="52.6,213.4 131.4,217.4 170.8,239.4" fill="none" stroke="#65974a" stroke-width="1.9" stroke-linejoin="round"/>
<line x1="131.4" y1="215.4" x2="131.4" y2="219.4" stroke="#65974a" stroke-width="1.0"/>
<line x1="129.8" y1="215.4" x2="133" y2="215.4" stroke="#65974a" stroke-width="1.0"/>
<line x1="129.8" y1="219.4" x2="133" y2="219.4" stroke="#65974a" stroke-width="1.0"/>
<line x1="170.8" y1="237.4" x2="170.8" y2="241.4" stroke="#65974a" stroke-width="1.0"/>
<line x1="169.2" y1="237.4" x2="172.4" y2="237.4" stroke="#65974a" stroke-width="1.0"/>
<line x1="169.2" y1="241.4" x2="172.4" y2="241.4" stroke="#65974a" stroke-width="1.0"/>
<polygon points="52.6,211.15 54.75,215.15 50.45,215.15" fill="#65974a"/>
<polygon points="131.4,215.15 133.55,219.15 129.25,219.15" fill="#65974a"/>
<polygon points="170.8,237.15 172.95,241.15 168.65,241.15" fill="#65974a"/>
<polyline points="52.6,213.4 92,221.4 111.7,219 131.4,238.3 151.1,270.8" fill="none" stroke="#263c66" stroke-width="1.9" stroke-linejoin="round"/>
<line x1="92" y1="219.9" x2="92" y2="222.9" stroke="#263c66" stroke-width="1.0"/>
<line x1="90.4" y1="219.9" x2="93.6" y2="219.9" stroke="#263c66" stroke-width="1.0"/>
<line x1="90.4" y1="222.9" x2="93.6" y2="222.9" stroke="#263c66" stroke-width="1.0"/>
<line x1="111.7" y1="217.5" x2="111.7" y2="220.5" stroke="#263c66" stroke-width="1.0"/>
<line x1="110.1" y1="217.5" x2="113.3" y2="217.5" stroke="#263c66" stroke-width="1.0"/>
<line x1="110.1" y1="220.5" x2="113.3" y2="220.5" stroke="#263c66" stroke-width="1.0"/>
<line x1="131.4" y1="236.8" x2="131.4" y2="239.8" stroke="#263c66" stroke-width="1.0"/>
<line x1="129.8" y1="236.8" x2="133" y2="236.8" stroke="#263c66" stroke-width="1.0"/>
<line x1="129.8" y1="239.8" x2="133" y2="239.8" stroke="#263c66" stroke-width="1.0"/>
<rect x="50.65" y="211.45" width="3.9" height="3.9" fill="#263c66"/>
<rect x="90.05" y="219.45" width="3.9" height="3.9" fill="#263c66"/>
<rect x="109.75" y="217.05" width="3.9" height="3.9" fill="#263c66"/>
<rect x="129.45" y="236.35" width="3.9" height="3.9" fill="#263c66"/>
<rect x="149.15" y="268.85" width="3.9" height="3.9" fill="#263c66"/>
<polyline points="52.6,213.4 72.3,253.8 92,268 111.7,268.4 131.4,270.6 151.1,270.8" fill="none" stroke="#9a1538" stroke-width="1.9" stroke-linejoin="round"/>
<line x1="52.6" y1="211.4" x2="52.6" y2="215.4" stroke="#9a1538" stroke-width="1.0"/>
<line x1="51" y1="211.4" x2="54.2" y2="211.4" stroke="#9a1538" stroke-width="1.0"/>
<line x1="51" y1="215.4" x2="54.2" y2="215.4" stroke="#9a1538" stroke-width="1.0"/>
<line x1="72.3" y1="251.8" x2="72.3" y2="255.8" stroke="#9a1538" stroke-width="1.0"/>
<line x1="70.7" y1="251.8" x2="73.9" y2="251.8" stroke="#9a1538" stroke-width="1.0"/>
<line x1="70.7" y1="255.8" x2="73.9" y2="255.8" stroke="#9a1538" stroke-width="1.0"/>
<line x1="92" y1="266.5" x2="92" y2="269.5" stroke="#9a1538" stroke-width="1.0"/>
<line x1="90.4" y1="266.5" x2="93.6" y2="266.5" stroke="#9a1538" stroke-width="1.0"/>
<line x1="90.4" y1="269.5" x2="93.6" y2="269.5" stroke="#9a1538" stroke-width="1.0"/>
<line x1="111.7" y1="266.9" x2="111.7" y2="269.9" stroke="#9a1538" stroke-width="1.0"/>
<line x1="110.1" y1="266.9" x2="113.3" y2="266.9" stroke="#9a1538" stroke-width="1.0"/>
<line x1="110.1" y1="269.9" x2="113.3" y2="269.9" stroke="#9a1538" stroke-width="1.0"/>
<line x1="131.4" y1="269.1" x2="131.4" y2="272.1" stroke="#9a1538" stroke-width="1.0"/>
<line x1="129.8" y1="269.1" x2="133" y2="269.1" stroke="#9a1538" stroke-width="1.0"/>
<line x1="129.8" y1="272.1" x2="133" y2="272.1" stroke="#9a1538" stroke-width="1.0"/>
<line x1="151.1" y1="269.3" x2="151.1" y2="272.3" stroke="#9a1538" stroke-width="1.0"/>
<line x1="149.5" y1="269.3" x2="152.7" y2="269.3" stroke="#9a1538" stroke-width="1.0"/>
<line x1="149.5" y1="272.3" x2="152.7" y2="272.3" stroke="#9a1538" stroke-width="1.0"/>
<rect x="50.65" y="211.45" width="3.9" height="3.9" fill="#9a1538"/>
<rect x="70.35" y="251.85" width="3.9" height="3.9" fill="#9a1538"/>
<rect x="90.05" y="266.05" width="3.9" height="3.9" fill="#9a1538"/>
<rect x="109.75" y="266.45" width="3.9" height="3.9" fill="#9a1538"/>
<rect x="129.45" y="268.65" width="3.9" height="3.9" fill="#9a1538"/>
<rect x="149.15" y="268.85" width="3.9" height="3.9" fill="#9a1538"/>
<circle cx="72.3" cy="248.9" r="1.25" fill="#151515"/>
<circle cx="88.15" cy="262.9" r="1.25" fill="#151515"/>
<circle cx="92" cy="262.9" r="1.25" fill="#151515"/>
<circle cx="95.85" cy="262.9" r="1.25" fill="#151515"/>
<circle cx="107.85" cy="263.4" r="1.25" fill="#151515"/>
<circle cx="111.7" cy="263.4" r="1.25" fill="#151515"/>
<circle cx="115.55" cy="263.4" r="1.25" fill="#151515"/>
<circle cx="127.55" cy="265.8" r="1.25" fill="#151515"/>
<circle cx="131.4" cy="265.8" r="1.25" fill="#151515"/>
<circle cx="135.25" cy="265.8" r="1.25" fill="#151515"/>
<circle cx="147.25" cy="266.3" r="1.25" fill="#151515"/>
<circle cx="151.1" cy="266.3" r="1.25" fill="#151515"/>
<circle cx="154.95" cy="266.3" r="1.25" fill="#151515"/>
<circle cx="147.25" cy="262.3" r="1.25" fill="#151515"/>
<circle cx="151.1" cy="262.3" r="1.25" fill="#151515"/>
<circle cx="154.95" cy="262.3" r="1.25" fill="#151515"/>
<line x1="221.1" y1="192.8" x2="221.1" y2="275.1" stroke="#111" stroke-width="1.4"/>
<line x1="217.9" y1="274.5" x2="221.1" y2="274.5" stroke="#111" stroke-width="1.2"/>
<text x="214.5" y="277.42" font-size="8.1" text-anchor="end" fill="#2a2a2a" textLength="4.32" lengthAdjust="spacingAndGlyphs" stroke="#2a2a2a" stroke-width="0.15">0</text>
<line x1="217.9" y1="254.94" x2="221.1" y2="254.94" stroke="#111" stroke-width="1.2"/>
<text x="214.5" y="257.86" font-size="8.1" text-anchor="end" fill="#2a2a2a" textLength="8.65" lengthAdjust="spacingAndGlyphs" stroke="#2a2a2a" stroke-width="0.15">20</text>
<line x1="217.9" y1="235.38" x2="221.1" y2="235.38" stroke="#111" stroke-width="1.2"/>
<text x="214.5" y="238.3" font-size="8.1" text-anchor="end" fill="#2a2a2a" textLength="8.65" lengthAdjust="spacingAndGlyphs" stroke="#2a2a2a" stroke-width="0.15">40</text>
<line x1="217.9" y1="215.82" x2="221.1" y2="215.82" stroke="#111" stroke-width="1.2"/>
<text x="214.5" y="218.74" font-size="8.1" text-anchor="end" fill="#2a2a2a" textLength="8.65" lengthAdjust="spacingAndGlyphs" stroke="#2a2a2a" stroke-width="0.15">60</text>
<line x1="217.9" y1="196.26" x2="221.1" y2="196.26" stroke="#111" stroke-width="1.2"/>
<text x="214.5" y="199.18" font-size="8.1" text-anchor="end" fill="#2a2a2a" textLength="8.65" lengthAdjust="spacingAndGlyphs" stroke="#2a2a2a" stroke-width="0.15">80</text>
<line x1="220.4" y1="274.4" x2="342.7" y2="274.4" stroke="#111" stroke-width="1.4"/>
<line x1="221.1" y1="274.4" x2="221.1" y2="277.6" stroke="#111" stroke-width="1.2"/>
<text x="225.7" y="284.1" font-size="8.1" text-anchor="end" fill="#2a2a2a" textLength="4.5" lengthAdjust="spacingAndGlyphs" stroke="#2a2a2a" stroke-width="0.15" transform="rotate(-45 225.7 284.1)">0</text>
<line x1="240.82" y1="274.4" x2="240.82" y2="277.6" stroke="#111" stroke-width="1.2"/>
<text x="245.42" y="284.1" font-size="8.1" text-anchor="end" fill="#2a2a2a" textLength="9.01" lengthAdjust="spacingAndGlyphs" stroke="#2a2a2a" stroke-width="0.15" transform="rotate(-45 245.42 284.1)">10</text>
<line x1="260.54" y1="274.4" x2="260.54" y2="277.6" stroke="#111" stroke-width="1.2"/>
<text x="265.14" y="284.1" font-size="8.1" text-anchor="end" fill="#2a2a2a" textLength="9.01" lengthAdjust="spacingAndGlyphs" stroke="#2a2a2a" stroke-width="0.15" transform="rotate(-45 265.14 284.1)">25</text>
<line x1="280.26" y1="274.4" x2="280.26" y2="277.6" stroke="#111" stroke-width="1.2"/>
<text x="284.86" y="284.1" font-size="8.1" text-anchor="end" fill="#2a2a2a" textLength="9.01" lengthAdjust="spacingAndGlyphs" stroke="#2a2a2a" stroke-width="0.15" transform="rotate(-45 284.86 284.1)">50</text>
<line x1="299.98" y1="274.4" x2="299.98" y2="277.6" stroke="#111" stroke-width="1.2"/>
<text x="304.58" y="284.1" font-size="8.1" text-anchor="end" fill="#2a2a2a" textLength="13.51" lengthAdjust="spacingAndGlyphs" stroke="#2a2a2a" stroke-width="0.15" transform="rotate(-45 304.58 284.1)">100</text>
<line x1="319.7" y1="274.4" x2="319.7" y2="277.6" stroke="#111" stroke-width="1.2"/>
<text x="324.3" y="284.1" font-size="8.1" text-anchor="end" fill="#2a2a2a" textLength="13.51" lengthAdjust="spacingAndGlyphs" stroke="#2a2a2a" stroke-width="0.15" transform="rotate(-45 324.3 284.1)">500</text>
<line x1="339.42" y1="274.4" x2="339.42" y2="277.6" stroke="#111" stroke-width="1.2"/>
<text x="344.02" y="284.1" font-size="8.1" text-anchor="end" fill="#2a2a2a" textLength="22.52" lengthAdjust="spacingAndGlyphs" stroke="#2a2a2a" stroke-width="0.15" transform="rotate(-45 344.02 284.1)">10000</text>
<text x="272" y="310.6" font-size="8.8" text-anchor="start" fill="#1a1a1a" textLength="19.8" lengthAdjust="spacingAndGlyphs" stroke="#1a1a1a" stroke-width="0.45">µg/ml</text>
<text x="195.8" y="233.1" font-size="8.9" text-anchor="middle" fill="#1e1e1e" textLength="51.5" lengthAdjust="spacingAndGlyphs" stroke="#1e1e1e" stroke-width="0.4" transform="rotate(-90 195.8 233.1)">% C4b deposition</text>
<polyline points="221.1,212.1 299.98,215.6 339.42,252.5" fill="none" stroke="#65974a" stroke-width="1.9" stroke-linejoin="round"/>
<line x1="339.42" y1="249.5" x2="339.42" y2="255.5" stroke="#65974a" stroke-width="1.0"/>
<line x1="337.82" y1="249.5" x2="341.02" y2="249.5" stroke="#65974a" stroke-width="1.0"/>
<line x1="337.82" y1="255.5" x2="341.02" y2="255.5" stroke="#65974a" stroke-width="1.0"/>
<polygon points="221.1,209.85 223.25,213.85 218.95,213.85" fill="#65974a"/>
<polygon points="299.98,213.35 302.13,217.35 297.83,217.35" fill="#65974a"/>
<polygon points="339.42,250.25 341.57,254.25 337.27,254.25" fill="#65974a"/>
<polyline points="221.1,212.1 260.54,217.9 280.26,217.9 299.98,231.3 319.7,250.6" fill="none" stroke="#263c66" stroke-width="1.9" stroke-linejoin="round"/>
<circle cx="221.1" cy="212.1" r="1.95" fill="#263c66"/>
<circle cx="260.54" cy="217.9" r="1.95" fill="#263c66"/>
<circle cx="280.26" cy="217.9" r="1.95" fill="#263c66"/>
<circle cx="299.98" cy="231.3" r="1.95" fill="#263c66"/>
<circle cx="319.7" cy="250.6" r="1.95" fill="#263c66"/>
<circle cx="319.7" cy="250.6" r="1.5" fill="#fff" stroke="#263c66" stroke-width="1"/>
<polyline points="221.1,215 240.82,266.6 260.54,268 280.26,267.9 299.98,268.8 319.7,269.8" fill="none" stroke="#9a1538" stroke-width="1.9" stroke-linejoin="round"/>
<rect x="219.15" y="213.05" width="3.9" height="3.9" fill="#9a1538"/>
<rect x="238.87" y="264.65" width="3.9" height="3.9" fill="#9a1538"/>
<rect x="258.59" y="266.05" width="3.9" height="3.9" fill="#9a1538"/>
<rect x="278.31" y="265.95" width="3.9" height="3.9" fill="#9a1538"/>
<rect x="298.03" y="266.85" width="3.9" height="3.9" fill="#9a1538"/>
<rect x="317.75" y="267.85" width="3.9" height="3.9" fill="#9a1538"/>
<rect x="219.2" y="210.6" width="3.8" height="3.8" fill="#9a1538"/>
<circle cx="236.97" cy="262.9" r="1.25" fill="#151515"/>
<circle cx="240.82" cy="262.9" r="1.25" fill="#151515"/>
<circle cx="244.67" cy="262.9" r="1.25" fill="#151515"/>
<circle cx="256.69" cy="263.5" r="1.25" fill="#151515"/>
<circle cx="260.54" cy="263.5" r="1.25" fill="#151515"/>
<circle cx="264.39" cy="263.5" r="1.25" fill="#151515"/>
<circle cx="276.41" cy="263.5" r="1.25" fill="#151515"/>
<circle cx="280.26" cy="263.5" r="1.25" fill="#151515"/>
<circle cx="284.11" cy="263.5" r="1.25" fill="#151515"/>
<circle cx="296.13" cy="264" r="1.25" fill="#151515"/>
<circle cx="299.98" cy="264" r="1.25" fill="#151515"/>
<circle cx="303.83" cy="264" r="1.25" fill="#151515"/>
<circle cx="315.85" cy="266" r="1.25" fill="#151515"/>
<circle cx="319.7" cy="266" r="1.25" fill="#151515"/>
<circle cx="323.55" cy="266" r="1.25" fill="#151515"/>
<circle cx="315.85" cy="246.2" r="1.25" fill="#151515"/>
<circle cx="319.7" cy="246.2" r="1.25" fill="#151515"/>
<circle cx="323.55" cy="246.2" r="1.25" fill="#151515"/>
<circle cx="335.57" cy="247.1" r="1.25" fill="#151515"/>
<circle cx="339.42" cy="247.1" r="1.25" fill="#151515"/>
<circle cx="343.27" cy="247.1" r="1.25" fill="#151515"/>
<line x1="389.5" y1="192.4" x2="389.5" y2="275.1" stroke="#111" stroke-width="1.4"/>
<line x1="386.3" y1="274.4" x2="389.5" y2="274.4" stroke="#111" stroke-width="1.2"/>
<text x="382.9" y="277.32" font-size="8.1" text-anchor="end" fill="#2a2a2a" textLength="4.32" lengthAdjust="spacingAndGlyphs" stroke="#2a2a2a" stroke-width="0.15">0</text>
<line x1="386.3" y1="258.54" x2="389.5" y2="258.54" stroke="#111" stroke-width="1.2"/>
<text x="382.9" y="261.46" font-size="8.1" text-anchor="end" fill="#2a2a2a" textLength="8.65" lengthAdjust="spacingAndGlyphs" stroke="#2a2a2a" stroke-width="0.15">20</text>
<line x1="386.3" y1="242.68" x2="389.5" y2="242.68" stroke="#111" stroke-width="1.2"/>
<text x="382.9" y="245.6" font-size="8.1" text-anchor="end" fill="#2a2a2a" textLength="8.65" lengthAdjust="spacingAndGlyphs" stroke="#2a2a2a" stroke-width="0.15">40</text>
<line x1="386.3" y1="226.82" x2="389.5" y2="226.82" stroke="#111" stroke-width="1.2"/>
<text x="382.9" y="229.74" font-size="8.1" text-anchor="end" fill="#2a2a2a" textLength="8.65" lengthAdjust="spacingAndGlyphs" stroke="#2a2a2a" stroke-width="0.15">60</text>
<line x1="386.3" y1="210.96" x2="389.5" y2="210.96" stroke="#111" stroke-width="1.2"/>
<text x="382.9" y="213.88" font-size="8.1" text-anchor="end" fill="#2a2a2a" textLength="8.65" lengthAdjust="spacingAndGlyphs" stroke="#2a2a2a" stroke-width="0.15">80</text>
<line x1="386.3" y1="195.1" x2="389.5" y2="195.1" stroke="#111" stroke-width="1.2"/>
<text x="382.9" y="198.02" font-size="8.1" text-anchor="end" fill="#2a2a2a" textLength="12.97" lengthAdjust="spacingAndGlyphs" stroke="#2a2a2a" stroke-width="0.15">100</text>
<line x1="388.8" y1="274.4" x2="510.5" y2="274.4" stroke="#111" stroke-width="1.4"/>
<line x1="389.5" y1="274.4" x2="389.5" y2="277.6" stroke="#111" stroke-width="1.2"/>
<text x="394.1" y="284.1" font-size="8.1" text-anchor="end" fill="#2a2a2a" textLength="4.5" lengthAdjust="spacingAndGlyphs" stroke="#2a2a2a" stroke-width="0.15" transform="rotate(-45 394.1 284.1)">0</text>
<line x1="409.05" y1="274.4" x2="409.05" y2="277.6" stroke="#111" stroke-width="1.2"/>
<text x="413.65" y="284.1" font-size="8.1" text-anchor="end" fill="#2a2a2a" textLength="9.01" lengthAdjust="spacingAndGlyphs" stroke="#2a2a2a" stroke-width="0.15" transform="rotate(-45 413.65 284.1)">10</text>
<line x1="428.6" y1="274.4" x2="428.6" y2="277.6" stroke="#111" stroke-width="1.2"/>
<text x="433.2" y="284.1" font-size="8.1" text-anchor="end" fill="#2a2a2a" textLength="9.01" lengthAdjust="spacingAndGlyphs" stroke="#2a2a2a" stroke-width="0.15" transform="rotate(-45 433.2 284.1)">25</text>
<line x1="448.15" y1="274.4" x2="448.15" y2="277.6" stroke="#111" stroke-width="1.2"/>
<text x="452.75" y="284.1" font-size="8.1" text-anchor="end" fill="#2a2a2a" textLength="9.01" lengthAdjust="spacingAndGlyphs" stroke="#2a2a2a" stroke-width="0.15" transform="rotate(-45 452.75 284.1)">50</text>
<line x1="467.7" y1="274.4" x2="467.7" y2="277.6" stroke="#111" stroke-width="1.2"/>
<text x="472.3" y="284.1" font-size="8.1" text-anchor="end" fill="#2a2a2a" textLength="13.51" lengthAdjust="spacingAndGlyphs" stroke="#2a2a2a" stroke-width="0.15" transform="rotate(-45 472.3 284.1)">100</text>
<line x1="487.25" y1="274.4" x2="487.25" y2="277.6" stroke="#111" stroke-width="1.2"/>
<text x="491.85" y="284.1" font-size="8.1" text-anchor="end" fill="#2a2a2a" textLength="13.51" lengthAdjust="spacingAndGlyphs" stroke="#2a2a2a" stroke-width="0.15" transform="rotate(-45 491.85 284.1)">500</text>
<line x1="506.8" y1="274.4" x2="506.8" y2="277.6" stroke="#111" stroke-width="1.2"/>
<text x="511.4" y="284.1" font-size="8.1" text-anchor="end" fill="#2a2a2a" textLength="22.52" lengthAdjust="spacingAndGlyphs" stroke="#2a2a2a" stroke-width="0.15" transform="rotate(-45 511.4 284.1)">10000</text>
<text x="439.8" y="311.4" font-size="8.8" text-anchor="start" fill="#1a1a1a" textLength="20.2" lengthAdjust="spacingAndGlyphs" stroke="#1a1a1a" stroke-width="0.45">µg/ml</text>
<text x="364.3" y="233" font-size="8.9" text-anchor="middle" fill="#1e1e1e" textLength="55.2" lengthAdjust="spacingAndGlyphs" stroke="#1e1e1e" stroke-width="0.4" transform="rotate(-90 364.3 233)">% MAC deposition</text>
<polyline points="389.5,209.8 467.7,232 506.8,267.4" fill="none" stroke="#65974a" stroke-width="1.9" stroke-linejoin="round"/>
<line x1="467.7" y1="229.5" x2="467.7" y2="234.5" stroke="#65974a" stroke-width="1.0"/>
<line x1="466.1" y1="229.5" x2="469.3" y2="229.5" stroke="#65974a" stroke-width="1.0"/>
<line x1="466.1" y1="234.5" x2="469.3" y2="234.5" stroke="#65974a" stroke-width="1.0"/>
<line x1="506.8" y1="264.4" x2="506.8" y2="270.4" stroke="#65974a" stroke-width="1.0"/>
<line x1="505.2" y1="264.4" x2="508.4" y2="264.4" stroke="#65974a" stroke-width="1.0"/>
<line x1="505.2" y1="270.4" x2="508.4" y2="270.4" stroke="#65974a" stroke-width="1.0"/>
<polygon points="389.5,207.55 391.65,211.55 387.35,211.55" fill="#65974a"/>
<polygon points="467.7,229.75 469.85,233.75 465.55,233.75" fill="#65974a"/>
<polygon points="506.8,265.15 508.95,269.15 504.65,269.15" fill="#65974a"/>
<polyline points="389.5,209.8 428.6,211.8 448.15,224.1 467.7,255.1 487.25,272.8" fill="none" stroke="#263c66" stroke-width="1.9" stroke-linejoin="round"/>
<line x1="428.6" y1="209.8" x2="428.6" y2="213.8" stroke="#263c66" stroke-width="1.0"/>
<line x1="427" y1="209.8" x2="430.2" y2="209.8" stroke="#263c66" stroke-width="1.0"/>
<line x1="427" y1="213.8" x2="430.2" y2="213.8" stroke="#263c66" stroke-width="1.0"/>
<line x1="448.15" y1="222.1" x2="448.15" y2="226.1" stroke="#263c66" stroke-width="1.0"/>
<line x1="446.55" y1="222.1" x2="449.75" y2="222.1" stroke="#263c66" stroke-width="1.0"/>
<line x1="446.55" y1="226.1" x2="449.75" y2="226.1" stroke="#263c66" stroke-width="1.0"/>
<line x1="467.7" y1="253.1" x2="467.7" y2="257.1" stroke="#263c66" stroke-width="1.0"/>
<line x1="466.1" y1="253.1" x2="469.3" y2="253.1" stroke="#263c66" stroke-width="1.0"/>
<line x1="466.1" y1="257.1" x2="469.3" y2="257.1" stroke="#263c66" stroke-width="1.0"/>
<rect x="387.55" y="207.85" width="3.9" height="3.9" fill="#263c66"/>
<rect x="426.65" y="209.85" width="3.9" height="3.9" fill="#263c66"/>
<rect x="446.2" y="222.15" width="3.9" height="3.9" fill="#263c66"/>
<rect x="465.75" y="253.15" width="3.9" height="3.9" fill="#263c66"/>
<rect x="485.3" y="270.85" width="3.9" height="3.9" fill="#263c66"/>
<polyline points="389.5,208.2 409.05,273.2 428.6,273.6 448.15,273.6 467.7,273.6 487.25,273.6" fill="none" stroke="#9a1538" stroke-width="1.9" stroke-linejoin="round"/>
<rect x="387.55" y="206.25" width="3.9" height="3.9" fill="#9a1538"/>
<rect x="407.1" y="271.25" width="3.9" height="3.9" fill="#9a1538"/>
<rect x="426.65" y="271.65" width="3.9" height="3.9" fill="#9a1538"/>
<rect x="446.2" y="271.65" width="3.9" height="3.9" fill="#9a1538"/>
<rect x="465.75" y="271.65" width="3.9" height="3.9" fill="#9a1538"/>
<rect x="485.3" y="271.65" width="3.9" height="3.9" fill="#9a1538"/>
<circle cx="405.2" cy="267.3" r="1.25" fill="#151515"/>
<circle cx="409.05" cy="267.3" r="1.25" fill="#151515"/>
<circle cx="412.9" cy="267.3" r="1.25" fill="#151515"/>
<circle cx="424.75" cy="269" r="1.25" fill="#151515"/>
<circle cx="428.6" cy="269" r="1.25" fill="#151515"/>
<circle cx="432.45" cy="269" r="1.25" fill="#151515"/>
<circle cx="444.3" cy="269" r="1.25" fill="#151515"/>
<circle cx="448.15" cy="269" r="1.25" fill="#151515"/>
<circle cx="452" cy="269" r="1.25" fill="#151515"/>
<circle cx="463.85" cy="269" r="1.25" fill="#151515"/>
<circle cx="467.7" cy="269" r="1.25" fill="#151515"/>
<circle cx="471.55" cy="269" r="1.25" fill="#151515"/>
<circle cx="483.4" cy="269" r="1.25" fill="#151515"/>
<circle cx="487.25" cy="269" r="1.25" fill="#151515"/>
<circle cx="491.1" cy="269" r="1.25" fill="#151515"/>
<circle cx="483.4" cy="264.7" r="1.25" fill="#151515"/>
<circle cx="487.25" cy="264.7" r="1.25" fill="#151515"/>
<circle cx="491.1" cy="264.7" r="1.25" fill="#151515"/>
<circle cx="502.95" cy="262" r="1.25" fill="#151515"/>
<circle cx="506.8" cy="262" r="1.25" fill="#151515"/>
<circle cx="510.65" cy="262" r="1.25" fill="#151515"/>
<text x="7.3" y="338.2" font-size="11" text-anchor="start" fill="#000" font-weight="bold" stroke="#000" stroke-width="0.15">D</text>
<line x1="135.5" y1="341.3" x2="146.3" y2="341.3" stroke="#9a1538" stroke-width="1.9"/>
<rect x="139" y="339.4" width="3.8" height="3.8" fill="#9a1538"/>
<text x="149.5" y="344.1" font-size="7.6" text-anchor="start" fill="#222" textLength="30" lengthAdjust="spacingAndGlyphs" stroke="#222" stroke-width="0.15">GL-2045</text>
<line x1="188" y1="341.3" x2="198" y2="341.3" stroke="#263c66" stroke-width="1.9"/>
<circle cx="193" cy="341.3" r="1.5" fill="#62769c" stroke="#263c66" stroke-width="1"/>
<text x="202" y="344.1" font-size="7.6" text-anchor="start" fill="#222" textLength="22.5" lengthAdjust="spacingAndGlyphs" stroke="#222" stroke-width="0.15">HAGG</text>
<line x1="232.3" y1="341.3" x2="242.8" y2="341.3" stroke="#65974a" stroke-width="1.9"/>
<polygon points="237.55,339.1 239.65,343 235.45,343" fill="#65974a"/>
<text x="245.8" y="344.1" font-size="7.6" text-anchor="start" fill="#222" textLength="14.2" lengthAdjust="spacingAndGlyphs" stroke="#222" stroke-width="0.15">IVIG</text>
<line x1="65.1" y1="354" x2="65.1" y2="441.7" stroke="#111" stroke-width="1.4"/>
<line x1="61.9" y1="441" x2="65.1" y2="441" stroke="#111" stroke-width="1.2"/>
<text x="58.5" y="443.92" font-size="8.1" text-anchor="end" fill="#2a2a2a" textLength="10.81" lengthAdjust="spacingAndGlyphs" stroke="#2a2a2a" stroke-width="0.15">0.0</text>
<line x1="61.9" y1="424.18" x2="65.1" y2="424.18" stroke="#111" stroke-width="1.2"/>
<text x="58.5" y="427.1" font-size="8.1" text-anchor="end" fill="#2a2a2a" textLength="10.81" lengthAdjust="spacingAndGlyphs" stroke="#2a2a2a" stroke-width="0.15">0.2</text>
<line x1="61.9" y1="407.36" x2="65.1" y2="407.36" stroke="#111" stroke-width="1.2"/>
<text x="58.5" y="410.28" font-size="8.1" text-anchor="end" fill="#2a2a2a" textLength="10.81" lengthAdjust="spacingAndGlyphs" stroke="#2a2a2a" stroke-width="0.15">0.4</text>
<line x1="61.9" y1="390.54" x2="65.1" y2="390.54" stroke="#111" stroke-width="1.2"/>
<text x="58.5" y="393.46" font-size="8.1" text-anchor="end" fill="#2a2a2a" textLength="10.81" lengthAdjust="spacingAndGlyphs" stroke="#2a2a2a" stroke-width="0.15">0.6</text>
<line x1="61.9" y1="373.72" x2="65.1" y2="373.72" stroke="#111" stroke-width="1.2"/>
<text x="58.5" y="376.64" font-size="8.1" text-anchor="end" fill="#2a2a2a" textLength="10.81" lengthAdjust="spacingAndGlyphs" stroke="#2a2a2a" stroke-width="0.15">0.8</text>
<line x1="61.9" y1="356.9" x2="65.1" y2="356.9" stroke="#111" stroke-width="1.2"/>
<text x="58.5" y="359.82" font-size="8.1" text-anchor="end" fill="#2a2a2a" textLength="10.81" lengthAdjust="spacingAndGlyphs" stroke="#2a2a2a" stroke-width="0.15">1.0</text>
<line x1="64.4" y1="441" x2="193.5" y2="441" stroke="#111" stroke-width="1.4"/>
<line x1="65.1" y1="441" x2="65.1" y2="444.2" stroke="#111" stroke-width="1.2"/>
<text x="69.7" y="450.7" font-size="8.1" text-anchor="end" fill="#2a2a2a" textLength="4.5" lengthAdjust="spacingAndGlyphs" stroke="#2a2a2a" stroke-width="0.15" transform="rotate(-45 69.7 450.7)">0</text>
<line x1="83.01" y1="441" x2="83.01" y2="444.2" stroke="#111" stroke-width="1.2"/>
<text x="87.61" y="450.7" font-size="8.1" text-anchor="end" fill="#2a2a2a" textLength="4.5" lengthAdjust="spacingAndGlyphs" stroke="#2a2a2a" stroke-width="0.15" transform="rotate(-45 87.61 450.7)">1</text>
<line x1="100.92" y1="441" x2="100.92" y2="444.2" stroke="#111" stroke-width="1.2"/>
<text x="105.52" y="450.7" font-size="8.1" text-anchor="end" fill="#2a2a2a" textLength="9.01" lengthAdjust="spacingAndGlyphs" stroke="#2a2a2a" stroke-width="0.15" transform="rotate(-45 105.52 450.7)">10</text>
<line x1="118.83" y1="441" x2="118.83" y2="444.2" stroke="#111" stroke-width="1.2"/>
<text x="123.43" y="450.7" font-size="8.1" text-anchor="end" fill="#2a2a2a" textLength="9.01" lengthAdjust="spacingAndGlyphs" stroke="#2a2a2a" stroke-width="0.15" transform="rotate(-45 123.43 450.7)">50</text>
<line x1="136.74" y1="441" x2="136.74" y2="444.2" stroke="#111" stroke-width="1.2"/>
<text x="141.34" y="450.7" font-size="8.1" text-anchor="end" fill="#2a2a2a" textLength="13.51" lengthAdjust="spacingAndGlyphs" stroke="#2a2a2a" stroke-width="0.15" transform="rotate(-45 141.34 450.7)">100</text>
<line x1="154.65" y1="441" x2="154.65" y2="444.2" stroke="#111" stroke-width="1.2"/>
<text x="159.25" y="450.7" font-size="8.1" text-anchor="end" fill="#2a2a2a" textLength="13.51" lengthAdjust="spacingAndGlyphs" stroke="#2a2a2a" stroke-width="0.15" transform="rotate(-45 159.25 450.7)">500</text>
<line x1="172.56" y1="441" x2="172.56" y2="444.2" stroke="#111" stroke-width="1.2"/>
<text x="177.16" y="450.7" font-size="8.1" text-anchor="end" fill="#2a2a2a" textLength="18.02" lengthAdjust="spacingAndGlyphs" stroke="#2a2a2a" stroke-width="0.15" transform="rotate(-45 177.16 450.7)">1000</text>
<line x1="190.47" y1="441" x2="190.47" y2="444.2" stroke="#111" stroke-width="1.2"/>
<text x="195.07" y="450.7" font-size="8.1" text-anchor="end" fill="#2a2a2a" textLength="22.52" lengthAdjust="spacingAndGlyphs" stroke="#2a2a2a" stroke-width="0.15" transform="rotate(-45 195.07 450.7)">10000</text>
<text x="119" y="477.4" font-size="8.8" text-anchor="start" fill="#1a1a1a" textLength="20.2" lengthAdjust="spacingAndGlyphs" stroke="#1a1a1a" stroke-width="0.45">µg/ml</text>
<text x="28.7" y="397.3" font-size="8.9" text-anchor="middle" fill="#1e1e1e" textLength="43.6" lengthAdjust="spacingAndGlyphs" stroke="#1e1e1e" stroke-width="0.4" transform="rotate(-90 28.7 397.3)">C1q deposition</text>
<text x="40.3" y="397.3" font-size="8.9" text-anchor="middle" fill="#1e1e1e" textLength="64.5" lengthAdjust="spacingAndGlyphs" stroke="#1e1e1e" stroke-width="0.4" transform="rotate(-90 40.3 397.3)">(OD value at 450 nm)</text>
<polyline points="65.1,374.2 100.92,373.2 136.74,374 172.56,381.8 190.47,391.2" fill="none" stroke="#65974a" stroke-width="1.9" stroke-linejoin="round"/>
<line x1="100.92" y1="371.2" x2="100.92" y2="375.2" stroke="#65974a" stroke-width="1.0"/>
<line x1="99.32" y1="371.2" x2="102.52" y2="371.2" stroke="#65974a" stroke-width="1.0"/>
<line x1="99.32" y1="375.2" x2="102.52" y2="375.2" stroke="#65974a" stroke-width="1.0"/>
<line x1="136.74" y1="372" x2="136.74" y2="376" stroke="#65974a" stroke-width="1.0"/>
<line x1="135.14" y1="372" x2="138.34" y2="372" stroke="#65974a" stroke-width="1.0"/>
<line x1="135.14" y1="376" x2="138.34" y2="376" stroke="#65974a" stroke-width="1.0"/>
<line x1="172.56" y1="379.8" x2="172.56" y2="383.8" stroke="#65974a" stroke-width="1.0"/>
<line x1="170.96" y1="379.8" x2="174.16" y2="379.8" stroke="#65974a" stroke-width="1.0"/>
<line x1="170.96" y1="383.8" x2="174.16" y2="383.8" stroke="#65974a" stroke-width="1.0"/>
<line x1="190.47" y1="389.7" x2="190.47" y2="392.7" stroke="#65974a" stroke-width="1.0"/>
<line x1="188.87" y1="389.7" x2="192.07" y2="389.7" stroke="#65974a" stroke-width="1.0"/>
<line x1="188.87" y1="392.7" x2="192.07" y2="392.7" stroke="#65974a" stroke-width="1.0"/>
<polygon points="65.1,371.95 67.25,375.95 62.95,375.95" fill="#65974a"/>
<polygon points="100.92,370.95 103.07,374.95 98.77,374.95" fill="#65974a"/>
<polygon points="136.74,371.75 138.89,375.75 134.59,375.75" fill="#65974a"/>
<polygon points="172.56,379.55 174.71,383.55 170.41,383.55" fill="#65974a"/>
<polygon points="190.47,388.95 192.62,392.95 188.32,392.95" fill="#65974a"/>
<polyline points="65.1,374.2 83.01,377.2 100.92,382.3 136.74,383.8 154.65,397" fill="none" stroke="#263c66" stroke-width="1.9" stroke-linejoin="round"/>
<line x1="100.92" y1="380.8" x2="100.92" y2="383.8" stroke="#263c66" stroke-width="1.0"/>
<line x1="99.32" y1="380.8" x2="102.52" y2="380.8" stroke="#263c66" stroke-width="1.0"/>
<line x1="99.32" y1="383.8" x2="102.52" y2="383.8" stroke="#263c66" stroke-width="1.0"/>
<line x1="136.74" y1="380.8" x2="136.74" y2="386.8" stroke="#263c66" stroke-width="1.0"/>
<line x1="135.14" y1="380.8" x2="138.34" y2="380.8" stroke="#263c66" stroke-width="1.0"/>
<line x1="135.14" y1="386.8" x2="138.34" y2="386.8" stroke="#263c66" stroke-width="1.0"/>
<circle cx="65.1" cy="374.2" r="1.95" fill="#263c66"/>
<circle cx="83.01" cy="377.2" r="1.95" fill="#263c66"/>
<circle cx="100.92" cy="382.3" r="1.95" fill="#263c66"/>
<circle cx="136.74" cy="383.8" r="1.95" fill="#263c66"/>
<circle cx="154.65" cy="397" r="1.95" fill="#263c66"/>
<circle cx="154.65" cy="397" r="1.5" fill="#fff" stroke="#263c66" stroke-width="1"/>
<polyline points="65.1,374.2 83.01,377.2 100.92,391.4 118.83,397 136.74,425.2" fill="none" stroke="#9a1538" stroke-width="1.9" stroke-linejoin="round"/>
<line x1="65.1" y1="372.7" x2="65.1" y2="375.7" stroke="#9a1538" stroke-width="1.0"/>
<line x1="63.5" y1="372.7" x2="66.7" y2="372.7" stroke="#9a1538" stroke-width="1.0"/>
<line x1="63.5" y1="375.7" x2="66.7" y2="375.7" stroke="#9a1538" stroke-width="1.0"/>
<line x1="83.01" y1="375.7" x2="83.01" y2="378.7" stroke="#9a1538" stroke-width="1.0"/>
<line x1="81.41" y1="375.7" x2="84.61" y2="375.7" stroke="#9a1538" stroke-width="1.0"/>
<line x1="81.41" y1="378.7" x2="84.61" y2="378.7" stroke="#9a1538" stroke-width="1.0"/>
<line x1="100.92" y1="389.4" x2="100.92" y2="393.4" stroke="#9a1538" stroke-width="1.0"/>
<line x1="99.32" y1="389.4" x2="102.52" y2="389.4" stroke="#9a1538" stroke-width="1.0"/>
<line x1="99.32" y1="393.4" x2="102.52" y2="393.4" stroke="#9a1538" stroke-width="1.0"/>
<line x1="118.83" y1="395.5" x2="118.83" y2="398.5" stroke="#9a1538" stroke-width="1.0"/>
<line x1="117.23" y1="395.5" x2="120.43" y2="395.5" stroke="#9a1538" stroke-width="1.0"/>
<line x1="117.23" y1="398.5" x2="120.43" y2="398.5" stroke="#9a1538" stroke-width="1.0"/>
<line x1="136.74" y1="423.2" x2="136.74" y2="427.2" stroke="#9a1538" stroke-width="1.0"/>
<line x1="135.14" y1="423.2" x2="138.34" y2="423.2" stroke="#9a1538" stroke-width="1.0"/>
<line x1="135.14" y1="427.2" x2="138.34" y2="427.2" stroke="#9a1538" stroke-width="1.0"/>
<rect x="63.15" y="372.25" width="3.9" height="3.9" fill="#9a1538"/>
<rect x="81.06" y="375.25" width="3.9" height="3.9" fill="#9a1538"/>
<rect x="98.97" y="389.45" width="3.9" height="3.9" fill="#9a1538"/>
<rect x="116.88" y="395.05" width="3.9" height="3.9" fill="#9a1538"/>
<rect x="134.79" y="423.25" width="3.9" height="3.9" fill="#9a1538"/>
<circle cx="97.07" cy="387.4" r="1.25" fill="#151515"/>
<circle cx="100.92" cy="387.4" r="1.25" fill="#151515"/>
<circle cx="104.77" cy="387.4" r="1.25" fill="#151515"/>
<circle cx="114.98" cy="392.6" r="1.25" fill="#151515"/>
<circle cx="118.83" cy="392.6" r="1.25" fill="#151515"/>
<circle cx="122.68" cy="392.6" r="1.25" fill="#151515"/>
<circle cx="132.89" cy="420.6" r="1.25" fill="#151515"/>
<circle cx="136.74" cy="420.6" r="1.25" fill="#151515"/>
<circle cx="140.59" cy="420.6" r="1.25" fill="#151515"/>
<circle cx="150.8" cy="392.4" r="1.25" fill="#151515"/>
<circle cx="154.65" cy="392.4" r="1.25" fill="#151515"/>
<circle cx="158.5" cy="392.4" r="1.25" fill="#151515"/>
<circle cx="186.62" cy="386.6" r="1.25" fill="#151515"/>
<circle cx="190.47" cy="386.6" r="1.25" fill="#151515"/>
<circle cx="194.32" cy="386.6" r="1.25" fill="#151515"/>
<line x1="248.6" y1="355.4" x2="248.6" y2="441.7" stroke="#111" stroke-width="1.4"/>
<line x1="245.4" y1="441" x2="248.6" y2="441" stroke="#111" stroke-width="1.2"/>
<text x="242" y="443.92" font-size="8.1" text-anchor="end" fill="#2a2a2a" textLength="10.81" lengthAdjust="spacingAndGlyphs" stroke="#2a2a2a" stroke-width="0.15">0.0</text>
<line x1="245.4" y1="420.4" x2="248.6" y2="420.4" stroke="#111" stroke-width="1.2"/>
<text x="242" y="423.32" font-size="8.1" text-anchor="end" fill="#2a2a2a" textLength="10.81" lengthAdjust="spacingAndGlyphs" stroke="#2a2a2a" stroke-width="0.15">0.5</text>
<line x1="245.4" y1="399.8" x2="248.6" y2="399.8" stroke="#111" stroke-width="1.2"/>
<text x="242" y="402.72" font-size="8.1" text-anchor="end" fill="#2a2a2a" textLength="10.81" lengthAdjust="spacingAndGlyphs" stroke="#2a2a2a" stroke-width="0.15">1.0</text>
<line x1="245.4" y1="379.2" x2="248.6" y2="379.2" stroke="#111" stroke-width="1.2"/>
<text x="242" y="382.12" font-size="8.1" text-anchor="end" fill="#2a2a2a" textLength="10.81" lengthAdjust="spacingAndGlyphs" stroke="#2a2a2a" stroke-width="0.15">1.5</text>
<line x1="245.4" y1="358.6" x2="248.6" y2="358.6" stroke="#111" stroke-width="1.2"/>
<text x="242" y="361.52" font-size="8.1" text-anchor="end" fill="#2a2a2a" textLength="10.81" lengthAdjust="spacingAndGlyphs" stroke="#2a2a2a" stroke-width="0.15">2.0</text>
<line x1="247.9" y1="441" x2="374" y2="441" stroke="#111" stroke-width="1.4"/>
<line x1="248.6" y1="441" x2="248.6" y2="444.2" stroke="#111" stroke-width="1.2"/>
<text x="253.2" y="450.7" font-size="8.1" text-anchor="end" fill="#2a2a2a" textLength="4.5" lengthAdjust="spacingAndGlyphs" stroke="#2a2a2a" stroke-width="0.15" transform="rotate(-45 253.2 450.7)">0</text>
<line x1="266.11" y1="441" x2="266.11" y2="444.2" stroke="#111" stroke-width="1.2"/>
<text x="270.71" y="450.7" font-size="8.1" text-anchor="end" fill="#2a2a2a" textLength="4.5" lengthAdjust="spacingAndGlyphs" stroke="#2a2a2a" stroke-width="0.15" transform="rotate(-45 270.71 450.7)">1</text>
<line x1="283.62" y1="441" x2="283.62" y2="444.2" stroke="#111" stroke-width="1.2"/>
<text x="288.22" y="450.7" font-size="8.1" text-anchor="end" fill="#2a2a2a" textLength="9.01" lengthAdjust="spacingAndGlyphs" stroke="#2a2a2a" stroke-width="0.15" transform="rotate(-45 288.22 450.7)">10</text>
<line x1="301.13" y1="441" x2="301.13" y2="444.2" stroke="#111" stroke-width="1.2"/>
<text x="305.73" y="450.7" font-size="8.1" text-anchor="end" fill="#2a2a2a" textLength="9.01" lengthAdjust="spacingAndGlyphs" stroke="#2a2a2a" stroke-width="0.15" transform="rotate(-45 305.73 450.7)">50</text>
<line x1="318.64" y1="441" x2="318.64" y2="444.2" stroke="#111" stroke-width="1.2"/>
<text x="323.24" y="450.7" font-size="8.1" text-anchor="end" fill="#2a2a2a" textLength="13.51" lengthAdjust="spacingAndGlyphs" stroke="#2a2a2a" stroke-width="0.15" transform="rotate(-45 323.24 450.7)">100</text>
<line x1="336.15" y1="441" x2="336.15" y2="444.2" stroke="#111" stroke-width="1.2"/>
<text x="340.75" y="450.7" font-size="8.1" text-anchor="end" fill="#2a2a2a" textLength="13.51" lengthAdjust="spacingAndGlyphs" stroke="#2a2a2a" stroke-width="0.15" transform="rotate(-45 340.75 450.7)">500</text>
<line x1="353.66" y1="441" x2="353.66" y2="444.2" stroke="#111" stroke-width="1.2"/>
<text x="358.26" y="450.7" font-size="8.1" text-anchor="end" fill="#2a2a2a" textLength="18.02" lengthAdjust="spacingAndGlyphs" stroke="#2a2a2a" stroke-width="0.15" transform="rotate(-45 358.26 450.7)">1000</text>
<line x1="371.17" y1="441" x2="371.17" y2="444.2" stroke="#111" stroke-width="1.2"/>
<text x="375.77" y="450.7" font-size="8.1" text-anchor="end" fill="#2a2a2a" textLength="22.52" lengthAdjust="spacingAndGlyphs" stroke="#2a2a2a" stroke-width="0.15" transform="rotate(-45 375.77 450.7)">10000</text>
<text x="301.1" y="477.8" font-size="8.8" text-anchor="start" fill="#1a1a1a" textLength="21" lengthAdjust="spacingAndGlyphs" stroke="#1a1a1a" stroke-width="0.45">µg/ml</text>
<text x="211.8" y="396.9" font-size="8.9" text-anchor="middle" fill="#1e1e1e" textLength="47.4" lengthAdjust="spacingAndGlyphs" stroke="#1e1e1e" stroke-width="0.4" transform="rotate(-90 211.8 396.9)">MAC deposition</text>
<text x="222.9" y="398.1" font-size="8.9" text-anchor="middle" fill="#1e1e1e" textLength="65" lengthAdjust="spacingAndGlyphs" stroke="#1e1e1e" stroke-width="0.4" transform="rotate(-90 222.9 398.1)">(OD value at 450 nm)</text>
<polyline points="248.6,373.8 283.62,381.9 318.64,389.7 353.66,390.4 371.17,436.6" fill="none" stroke="#65974a" stroke-width="1.9" stroke-linejoin="round"/>
<line x1="371.17" y1="435.1" x2="371.17" y2="438.1" stroke="#65974a" stroke-width="1.0"/>
<line x1="369.57" y1="435.1" x2="372.77" y2="435.1" stroke="#65974a" stroke-width="1.0"/>
<line x1="369.57" y1="438.1" x2="372.77" y2="438.1" stroke="#65974a" stroke-width="1.0"/>
<polygon points="248.6,371.55 250.75,375.55 246.45,375.55" fill="#65974a"/>
<polygon points="283.62,379.65 285.77,383.65 281.47,383.65" fill="#65974a"/>
<polygon points="318.64,387.45 320.79,391.45 316.49,391.45" fill="#65974a"/>
<polygon points="353.66,388.15 355.81,392.15 351.51,392.15" fill="#65974a"/>
<polygon points="371.17,434.35 373.32,438.35 369.02,438.35" fill="#65974a"/>
<polyline points="248.6,373.8 266.11,391.5 283.62,393.6 318.64,399.7 336.15,435" fill="none" stroke="#263c66" stroke-width="1.9" stroke-linejoin="round"/>
<circle cx="248.6" cy="373.8" r="1.95" fill="#263c66"/>
<circle cx="266.11" cy="391.5" r="1.95" fill="#263c66"/>
<circle cx="283.62" cy="393.6" r="1.95" fill="#263c66"/>
<circle cx="318.64" cy="399.7" r="1.95" fill="#263c66"/>
<circle cx="336.15" cy="435" r="1.95" fill="#263c66"/>
<circle cx="336.15" cy="435" r="1.5" fill="#fff" stroke="#263c66" stroke-width="1"/>
<polyline points="248.6,373.8 266.11,405 283.62,435.2 301.13,437.3 318.64,436.6" fill="none" stroke="#9a1538" stroke-width="1.9" stroke-linejoin="round"/>
<rect x="246.65" y="371.85" width="3.9" height="3.9" fill="#9a1538"/>
<rect x="264.16" y="403.05" width="3.9" height="3.9" fill="#9a1538"/>
<rect x="281.67" y="433.25" width="3.9" height="3.9" fill="#9a1538"/>
<rect x="299.18" y="435.35" width="3.9" height="3.9" fill="#9a1538"/>
<rect x="316.69" y="434.65" width="3.9" height="3.9" fill="#9a1538"/>
<circle cx="279.77" cy="431.3" r="1.25" fill="#151515"/>
<circle cx="283.62" cy="431.3" r="1.25" fill="#151515"/>
<circle cx="287.47" cy="431.3" r="1.25" fill="#151515"/>
<circle cx="297.28" cy="433.1" r="1.25" fill="#151515"/>
<circle cx="301.13" cy="433.1" r="1.25" fill="#151515"/>
<circle cx="304.98" cy="433.1" r="1.25" fill="#151515"/>
<circle cx="314.79" cy="433.1" r="1.25" fill="#151515"/>
<circle cx="318.64" cy="433.1" r="1.25" fill="#151515"/>
<circle cx="322.49" cy="433.1" r="1.25" fill="#151515"/>
<circle cx="316.71" cy="395.7" r="1.25" fill="#151515"/>
<circle cx="320.56" cy="395.7" r="1.25" fill="#151515"/>
<circle cx="332.3" cy="430.8" r="1.25" fill="#151515"/>
<circle cx="336.15" cy="430.8" r="1.25" fill="#151515"/>
<circle cx="340" cy="430.8" r="1.25" fill="#151515"/>
<circle cx="367.32" cy="433" r="1.25" fill="#151515"/>
<circle cx="371.17" cy="433" r="1.25" fill="#151515"/>
<circle cx="375.02" cy="433" r="1.25" fill="#151515"/>
<rect x="0" y="0" width="520" height="1.3" fill="#000"/>
<rect x="0" y="0" width="1.3" height="488" fill="#000"/>
<rect x="518.3" y="0" width="1.7" height="488" fill="#000"/>
<rect x="0" y="486.4" width="520" height="1.6" fill="#000"/>
</svg>
</body></html>
